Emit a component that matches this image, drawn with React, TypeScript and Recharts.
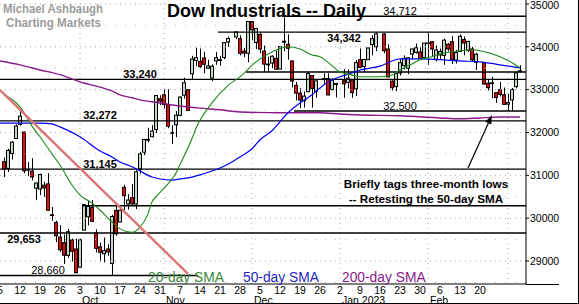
import React from 'react';
import { ComposedChart, Bar, Line, XAxis, YAxis, ReferenceLine, ReferenceDot } from 'recharts';

const FONT = 'Arial, "Liberation Sans", Helvetica, sans-serif';
const UP = '#c4d9c4';
const DOWN = '#f00000';

// daily bars: date, open, high, low, close
const candles: [string, number, number, number, number][] = [
  ['2022-09-06', 31320, 31415, 30960, 31145],
  ['2022-09-07', 31160, 31620, 31080, 31581],
  ['2022-09-08', 31510, 31800, 31370, 31775],
  ['2022-09-09', 31860, 32190, 31860, 32152],
  ['2022-09-12', 32190, 32510, 32160, 32381],
  ['2022-09-13', 32010, 32020, 31050, 31105],
  ['2022-09-14', 31140, 31310, 30980, 31135],
  ['2022-09-15', 31100, 31400, 30880, 30962],
  ['2022-09-16', 30700, 30830, 30420, 30822],
  ['2022-09-19', 30680, 31040, 30540, 31019],
  ['2022-09-20', 30770, 30850, 30500, 30706],
  ['2022-09-21', 30800, 31050, 30180, 30184],
  ['2022-09-22', 30080, 30260, 29940, 30077],
  ['2022-09-23', 29900, 29940, 29440, 29590],
  ['2022-09-26', 29560, 29840, 29210, 29261],
  ['2022-09-27', 29430, 29620, 28930, 29135],
  ['2022-09-28', 29130, 29750, 29070, 29684],
  ['2022-09-29', 29490, 29520, 28990, 29226],
  ['2022-09-30', 29280, 29520, 28715, 28726],
  ['2022-10-03', 28855, 29520, 28855, 29491],
  ['2022-10-04', 29720, 30320, 29720, 30317],
  ['2022-10-05', 30030, 30410, 29830, 30274],
  ['2022-10-06', 30250, 30420, 29910, 29927],
  ['2022-10-07', 29660, 29740, 29200, 29297],
  ['2022-10-10', 29330, 29430, 28990, 29203],
  ['2022-10-11', 29170, 29550, 28970, 29240],
  ['2022-10-12', 29280, 29390, 29120, 29211],
  ['2022-10-13', 28940, 30080, 28660, 30039],
  ['2022-10-14', 30180, 30290, 29590, 29635],
  ['2022-10-17', 29910, 30220, 29910, 30186],
  ['2022-10-18', 30720, 30780, 30190, 30524],
  ['2022-10-19', 30330, 30560, 30200, 30424],
  ['2022-10-20', 30480, 30800, 30280, 30334],
  ['2022-10-21', 30330, 31120, 30210, 31083],
  ['2022-10-24', 31150, 31550, 31040, 31500],
  ['2022-10-25', 31540, 31850, 31470, 31837],
  ['2022-10-26', 31840, 32110, 31770, 31839],
  ['2022-10-27', 31900, 32170, 31890, 32034],
  ['2022-10-28', 32070, 32870, 31990, 32862],
  ['2022-10-31', 32790, 32870, 32640, 32733],
  ['2022-11-01', 32880, 33000, 32560, 32653],
  ['2022-11-02', 32650, 33010, 32100, 32148],
  ['2022-11-03', 31990, 32170, 31730, 32001],
  ['2022-11-04', 32180, 32500, 31890, 32403],
  ['2022-11-07', 32400, 32850, 32380, 32827],
  ['2022-11-08', 32870, 33280, 32790, 33161],
  ['2022-11-09', 33000, 33000, 32500, 32514],
  ['2022-11-10', 33370, 33790, 33240, 33716],
  ['2022-11-11', 33680, 33980, 33550, 33748],
  ['2022-11-14', 33660, 33960, 33510, 33537],
  ['2022-11-15', 33740, 33880, 33380, 33593],
  ['2022-11-16', 33500, 33700, 33490, 33554],
  ['2022-11-17', 33270, 33590, 33200, 33547],
  ['2022-11-18', 33670, 33880, 33580, 33746],
  ['2022-11-21', 33700, 33790, 33560, 33700],
  ['2022-11-22', 33750, 34110, 33710, 34098],
  ['2022-11-23', 34110, 34240, 34000, 34194],
  ['2022-11-25', 34230, 34360, 34180, 34347],
  ['2022-11-28', 34190, 34270, 33800, 33850],
  ['2022-11-29', 33900, 33970, 33760, 33853],
  ['2022-11-30', 33850, 34590, 33640, 34590],
  ['2022-12-01', 34590, 34600, 34150, 34395],
  ['2022-12-02', 34100, 34430, 33950, 34430],
  ['2022-12-05', 34290, 34330, 33850, 33947],
  ['2022-12-06', 33900, 34030, 33420, 33597],
  ['2022-12-07', 33590, 33770, 33420, 33598],
  ['2022-12-08', 33620, 33800, 33500, 33781],
  ['2022-12-09', 33730, 33910, 33470, 33477],
  ['2022-12-12', 33480, 34010, 33480, 34005],
  ['2022-12-13', 34130, 34712, 33900, 34108],
  ['2022-12-14', 34060, 34290, 33700, 33966],
  ['2022-12-15', 33670, 33680, 33050, 33202],
  ['2022-12-16', 33100, 33180, 32750, 32920],
  ['2022-12-19', 32920, 33040, 32570, 32757],
  ['2022-12-20', 32740, 32960, 32580, 32850],
  ['2022-12-21', 32950, 33420, 32950, 33377],
  ['2022-12-22', 33330, 33330, 32580, 33027],
  ['2022-12-23', 32960, 33220, 32810, 33204],
  ['2022-12-27', 33260, 33380, 33110, 33241],
  ['2022-12-28', 33260, 33380, 32870, 32876],
  ['2022-12-29', 33000, 33270, 33000, 33221],
  ['2022-12-30', 33120, 33150, 32820, 33147],
  ['2023-01-03', 33210, 33480, 32810, 33136],
  ['2023-01-04', 33170, 33470, 33030, 33270],
  ['2023-01-05', 33220, 33220, 32810, 32930],
  ['2023-01-06', 33020, 33690, 32850, 33631],
  ['2023-01-09', 33700, 33960, 33500, 33518],
  ['2023-01-10', 33540, 33720, 33400, 33704],
  ['2023-01-11', 33700, 33980, 33700, 33973],
  ['2023-01-12', 34050, 34270, 33800, 34190],
  ['2023-01-13', 34000, 34340, 33900, 34303],
  ['2023-01-17', 34300, 34320, 33850, 33910],
  ['2023-01-18', 33950, 34060, 33290, 33297],
  ['2023-01-19', 33200, 33230, 32980, 33045],
  ['2023-01-20', 33070, 33400, 32960, 33375],
  ['2023-01-23', 33390, 33720, 33330, 33629],
  ['2023-01-24', 33560, 33800, 33470, 33733],
  ['2023-01-25', 33500, 33750, 33360, 33744],
  ['2023-01-26', 33830, 33960, 33700, 33950],
  ['2023-01-27', 33870, 34080, 33840, 33978],
  ['2023-01-30', 33880, 33990, 33700, 33717],
  ['2023-01-31', 33750, 34090, 33730, 34086],
  ['2023-02-01', 34080, 34330, 33580, 34093],
  ['2023-02-02', 34120, 34130, 33770, 33949],
  ['2023-02-03', 33700, 34030, 33660, 33926],
  ['2023-02-06', 33810, 33960, 33720, 33891],
  ['2023-02-07', 33800, 34190, 33580, 34156],
  ['2023-02-08', 34060, 34090, 33890, 33949],
  ['2023-02-09', 34120, 34250, 33600, 33699],
  ['2023-02-10', 33690, 33930, 33610, 33869],
  ['2023-02-13', 33890, 34290, 33880, 34246],
  ['2023-02-14', 34170, 34240, 33800, 34089],
  ['2023-02-15', 33920, 34130, 33880, 34128],
  ['2023-02-16', 33950, 34000, 33650, 33697],
  ['2023-02-17', 33640, 33860, 33460, 33827],
  ['2023-02-21', 33630, 33630, 33120, 33130],
  ['2023-02-22', 33150, 33240, 32980, 33045],
  ['2023-02-23', 33160, 33300, 32800, 33154],
  ['2023-02-24', 32930, 32940, 32690, 32817],
  ['2023-02-27', 33000, 33180, 32840, 32889],
  ['2023-02-28', 32880, 33050, 32650, 32657],
  ['2023-03-01', 32700, 32900, 32500, 32662],
  ['2023-03-02', 32760, 33040, 32500, 33004],
  ['2023-03-03', 33070, 33400, 33030, 33391],
  ['2023-03-06', 33440, 33570, 33400, 33431],
];

// moving averages
const sma20: [string, number][] = [
  ['2022-09-06', 32880], ['2022-09-12', 32600], ['2022-09-15', 32150], ['2022-09-19', 31900],
  ['2022-09-22', 31500], ['2022-09-26', 31240], ['2022-09-29', 30775], ['2022-10-03', 30540],
  ['2022-10-06', 30350], ['2022-10-10', 30190], ['2022-10-13', 29910], ['2022-10-17', 29750],
  ['2022-10-20', 29670], ['2022-10-24', 29790], ['2022-10-26', 30100], ['2022-10-27', 30380],
  ['2022-10-28', 30495], ['2022-11-02', 30800], ['2022-11-04', 31055], ['2022-11-07', 31250],
  ['2022-11-10', 31860], ['2022-11-11', 32100], ['2022-11-17', 32690], ['2022-11-23', 33100],
  ['2022-11-28', 33300], ['2022-12-02', 33650], ['2022-12-08', 33880], ['2022-12-14', 34000],
  ['2022-12-19', 33950], ['2022-12-22', 33810], ['2022-12-26', 33770], ['2022-12-29', 33560],
  ['2023-01-02', 33410], ['2023-01-05', 33340], ['2023-01-09', 33300], ['2023-01-16', 33300],
  ['2023-01-19', 33340], ['2023-01-23', 33460], ['2023-01-26', 33600], ['2023-01-30', 33700],
  ['2023-02-02', 33770], ['2023-02-06', 33840], ['2023-02-09', 33880], ['2023-02-13', 33910],
  ['2023-02-16', 33930], ['2023-02-20', 33910], ['2023-02-23', 33840], ['2023-02-27', 33770],
  ['2023-03-02', 33630], ['2023-03-06', 33510],
];

const sma50: [string, number][] = [
  ['2022-09-05', 32220], ['2022-09-12', 32220], ['2022-09-19', 32220], ['2022-09-22', 32200],
  ['2022-09-26', 32130], ['2022-10-03', 31900], ['2022-10-10', 31570], ['2022-10-13', 31430],
  ['2022-10-17', 31310], ['2022-10-20', 31200], ['2022-10-24', 31100], ['2022-10-27', 30960],
  ['2022-10-31', 30915], ['2022-11-03', 30890], ['2022-11-07', 30915], ['2022-11-10', 30960],
  ['2022-11-14', 31010], ['2022-11-17', 31100], ['2022-11-21', 31170], ['2022-11-24', 31310],
  ['2022-11-28', 31430], ['2022-12-01', 31620], ['2022-12-05', 31830], ['2022-12-08', 32040],
  ['2022-12-12', 32250], ['2022-12-14', 32460], ['2022-12-19', 32690], ['2022-12-22', 32880],
  ['2022-12-26', 33040], ['2022-12-29', 33230], ['2023-01-02', 33300], ['2023-01-05', 33390],
  ['2023-01-09', 33460], ['2023-01-12', 33510], ['2023-01-16', 33550], ['2023-01-19', 33670],
  ['2023-01-23', 33720], ['2023-01-30', 33720], ['2023-02-06', 33700], ['2023-02-13', 33670],
  ['2023-02-20', 33650], ['2023-02-27', 33580], ['2023-03-06', 33510],
];

const sma200: [string, number][] = [
  ['2022-09-05', 33670], ['2022-09-12', 33580], ['2022-09-19', 33460], ['2022-09-26', 33350],
  ['2022-09-29', 33250], ['2022-10-03', 33180], ['2022-10-10', 33060], ['2022-10-13', 32970],
  ['2022-10-17', 32880], ['2022-10-20', 32810], ['2022-10-24', 32760], ['2022-10-31', 32690],
  ['2022-11-07', 32620], ['2022-11-14', 32570], ['2022-11-21', 32530], ['2022-11-28', 32480],
  ['2022-12-12', 32460], ['2022-12-26', 32460], ['2023-01-02', 32430], ['2023-01-09', 32410],
  ['2023-01-23', 32390], ['2023-02-06', 32340], ['2023-02-13', 32320], ['2023-02-20', 32340],
  ['2023-02-27', 32360], ['2023-03-06', 32360],
];

// falling trendline off the August high
const trendline: [string, number][] = [['2022-09-05', 32990], ['2022-11-09', 28700]];

// support / resistance: level, first day, last day
const levels: [number, string, string][] = [
  [34712, '2022-12-13', '2023-03-07'],
  [34342, '2022-11-21', '2023-03-07'],
  [33412, '2022-11-30', '2023-03-07'],
  [33240, '2022-09-05', '2023-03-07'],
  [32500, '2022-12-16', '2023-03-07'],
  [32272, '2022-09-05', '2023-03-07'],
  [31145, '2022-09-05', '2023-03-07'],
  [30290, '2022-10-04', '2023-03-07'],
  [29653, '2022-09-05', '2023-03-07'],
  [28660, '2022-09-05', '2022-11-11'],
];

// captions: text, day under its centre, level, bold, below the line
const captions: [string, string, number, boolean, boolean][] = [
  ['34,712', '2023-01-23', 34712, false, false],
  ['34,342', '2023-01-03', 34342, true, true],
  ['33,240', '2022-10-24', 33240, true, false],
  ['32,500', '2023-01-23', 32500, false, false],
  ['32,272', '2022-10-10', 32272, true, false],
  ['31,145', '2022-10-10', 31145, true, false],
  ['29,653', '2022-09-13', 29653, true, true],
  ['28,660', '2022-09-21', 28660, false, false],
];

const weekTicks = [
  '2022-09-05', '2022-09-12', '2022-09-19', '2022-09-26', '2022-10-03', '2022-10-10', '2022-10-17',
  '2022-10-24', '2022-10-31', '2022-11-07', '2022-11-14', '2022-11-21', '2022-11-28', '2022-12-05',
  '2022-12-12', '2022-12-19', '2022-12-26', '2023-01-02', '2023-01-09', '2023-01-16', '2023-01-23',
  '2023-01-30', '2023-02-06', '2023-02-13', '2023-02-20',
];
const months: [string, string][] = [
  ['2022-10-03', 'Oct'], ['2022-11-01', 'Nov'], ['2022-12-01', 'Dec'],
  ['2023-01-02', 'Jan 2023'], ['2023-02-01', 'Feb'],
];
const monthGrid = ['2022-10-03', '2022-11-01', '2022-12-01', '2023-01-02', '2023-02-01', '2023-03-01'];
const yTicks = [29000, 30000, 31000, 32000, 33000, 34000, 35000];
const yHalf = [28500, 29500, 30500, 31500, 32500, 33500, 34500];

const arrowFrom: [string, number] = ['2023-02-15', 31170];
const arrowTo: [string, number] = ['2023-02-23', 32410];

// x positions are weekdays counted from Monday 5 Sep 2022 (holidays keep their slot)
const START = Date.UTC(2022, 8, 5);
const slotOf = (iso: string) => {
  const days = Math.round((Date.parse(iso + 'T00:00:00Z') - START) / 86400000);
  return Math.floor(days / 7) * 5 + (days % 7);
};
const dayOf = new Map(weekTicks.map(d => [slotOf(d), String(Number(d.slice(8)))]));
const monthOf = new Map(months.map(([d, m]) => [slotOf(d), m]));

const rows = candles.map(([d, open, high, low, close]) => ({ slot: slotOf(d), open, high, low, close, range: [low, high] }));
const pts = (list: [string, number][]) => list.map(([d, v]) => ({ slot: slotOf(d), v }));

const Candle = (props: any) => {
  const { x, y, width, height, payload } = props;
  if (!payload || payload.open == null) return null;
  const { open, high, low, close } = payload;
  const top = Math.min(y, y + height);
  const h = Math.abs(height);
  const k = h / Math.max(high - low, 1);
  const yOf = (v: number) => top + (high - v) * k;
  const cx = Math.round(x + width / 2);
  const b1 = yOf(Math.max(open, close));
  const b2 = yOf(Math.min(open, close));
  return (
    <g>
      <line x1={cx + 0.5} x2={cx + 0.5} y1={top} y2={top + h} stroke="#000" strokeWidth={1} />
      <rect x={cx - 1.5} y={b1} width={3} height={Math.max(b2 - b1, 0.8)} fill={close >= open ? UP : DOWN} stroke="#000" strokeWidth={1} />
    </g>
  );
};

const Arrow = (p: any) => {
  const { x1, y1, x2, y2 } = p;
  const a = Math.atan2(y2 - y1, x2 - x1);
  const L = 9, W = 3.2;
  const bx = x2 - L * Math.cos(a), by = y2 - L * Math.sin(a);
  const s = Math.sin(a), c = Math.cos(a);
  return (
    <g>
      <line x1={x1} y1={y1} x2={bx} y2={by} stroke="#000" strokeWidth={1.2} />
      <polygon points={`${x2},${y2} ${bx + W * s},${by - W * c} ${bx - W * s},${by + W * c}`} fill="#000" />
    </g>
  );
};

const captionLabel = (text: string, bold: boolean, below: boolean) => (p: any) => {
  const vb = p.viewBox || {};
  const x = vb.x + (vb.width || 0) / 2;
  const y = vb.y + (vb.height || 0) / 2;
  return (
    <text x={x} y={below ? y + 10 : y - 1.5} textAnchor="middle" fontSize={11} fontWeight={bold ? 700 : 400} fontFamily={FONT} fill="#000">
      {text}
    </text>
  );
};

const MonthTick = (p: any) => (
  <text x={p.x + 2} y={p.y} dy="0.71em" fontSize={10.5} fontFamily={FONT} fill="#000">{monthOf.get(p.payload.value)}</text>
);

export default function App() {
  return (
    <div style={{ position: 'absolute', left: 0, top: 0, width: 579, height: 304, overflow: 'hidden', background: '#fff' }}>
      <div style={{ position: 'absolute', left: -2, top: 0 }}>
        <ComposedChart width={581} height={304} data={rows} margin={{ top: 0, right: 0, left: 0, bottom: 0 }}>
          <XAxis dataKey="slot" type="number" domain={[-0.5, 131.5]} allowDataOverflow ticks={weekTicks.map(slotOf)} interval={0}
            tickFormatter={(v: number) => dayOf.get(v) || ''} height={10} tickSize={0} tickMargin={3} tickLine={false}
            axisLine={{ stroke: '#000' }} tick={{ fontSize: 10.5, fill: '#000', fontFamily: FONT }} />
          <XAxis xAxisId="m" dataKey="slot" type="number" domain={[-0.5, 131.5]} allowDataOverflow ticks={months.map(m => slotOf(m[0]))}
            interval={0} height={10} tickSize={0} tickMargin={3} tickLine={false} axisLine={false} tick={<MonthTick />} />
          <YAxis orientation="right" type="number" domain={[28463, 35093]} allowDataOverflow ticks={yTicks} width={53}
            tickSize={3} tickMargin={1} axisLine={{ stroke: '#000' }} tickLine={{ stroke: '#000' }}
            tick={{ fontSize: 10.5, fill: '#000', fontFamily: FONT, textAnchor: 'start' }} />

          {yTicks.map(v => (
            <ReferenceLine key={'g' + v} y={v} stroke="#a8a8a8" strokeDasharray="1 4" />
          ))}
          {yHalf.map(v => (
            <ReferenceLine key={'h' + v} y={v} stroke="#b8b8b8" strokeDasharray="1 9" />
          ))}
          {monthGrid.map(d => (
            <ReferenceLine key={'v' + d} x={slotOf(d)} stroke="#a8a8a8" strokeDasharray="1 4" />
          ))}

          {levels.map(([v, a, b]) => (
            <ReferenceLine key={'l' + v} ifOverflow="visible" stroke="#000" strokeWidth={1.4}
              segment={[{ x: slotOf(a) - 0.5, y: v }, { x: Math.min(slotOf(b) + 0.5, 131.5), y: v }]} />
          ))}

          <Line data={pts(sma200)} dataKey="v" type="monotone" stroke="#8a1a8a" strokeWidth={1.4} dot={false} isAnimationActive={false} />
          <Line data={pts(sma50)} dataKey="v" type="monotone" stroke="#0000f0" strokeWidth={1.2} dot={false} isAnimationActive={false} />
          <Line data={pts(sma20)} dataKey="v" type="monotone" stroke="#1a8a1a" strokeWidth={1.1} dot={false} isAnimationActive={false} />
          <Line data={pts(trendline)} dataKey="v" type="linear" stroke="#dc7474" strokeWidth={2.4} dot={false} isAnimationActive={false} />

          <Bar dataKey="range" barSize={4} shape={Candle} isAnimationActive={false} />

          {captions.map(([t, d, v, bold, below]) => (
            <ReferenceDot key={'c' + t} x={slotOf(d)} y={v} r={0} fill="none" stroke="none" label={captionLabel(t, bold, below)} />
          ))}

          <ReferenceLine segment={[{ x: slotOf(arrowFrom[0]), y: arrowFrom[1] }, { x: slotOf(arrowTo[0]), y: arrowTo[1] }]}
            stroke="#000" shape={Arrow} />
        </ComposedChart>
      </div>

      <svg width={579} height={304} style={{ position: 'absolute', left: 0, top: 0, pointerEvents: 'none' }} fontFamily={FONT}>
        <text x={3} y={13} fontSize={12} fontWeight={700} fill="#9c9c9c" textLength={100} lengthAdjust="spacingAndGlyphs">Michael Ashbaugh</text>
        <text x={6} y={27} fontSize={12} fontWeight={700} fill="#9c9c9c" textLength={95} lengthAdjust="spacingAndGlyphs">Charting Markets</text>
        <text x={167} y={16.5} fontSize={18} fontWeight={700} fill="#000">Dow Industrials -- Daily</text>
        <text x={426} y={187.5} fontSize={11.7} fontWeight={700} fill="#000" textAnchor="middle">Briefly tags three-month lows</text>
        <text x={426} y={202.5} fontSize={11.7} fontWeight={700} fill="#000" textAnchor="middle">-- Retesting the 50-day SMA</text>
        <text x={148} y={281.5} fontSize={13.8} fill="#3a873a">20-day SMA</text>
        <text x={243} y={281.5} fontSize={13.8} fill="#1f1fc0">50-day SMA</text>
        <text x={342} y={281.5} fontSize={13.8} fill="#8a1a8a">200-day SMA</text>
        <line x1={526} x2={559} y1={284.5} y2={284.5} stroke="#000" />
        <line x1={578.5} x2={578.5} y1={0} y2={304} stroke="#000" />
        <line x1={0} x2={579} y1={303.5} y2={303.5} stroke="#000" />
      </svg>
    </div>
  );
}
